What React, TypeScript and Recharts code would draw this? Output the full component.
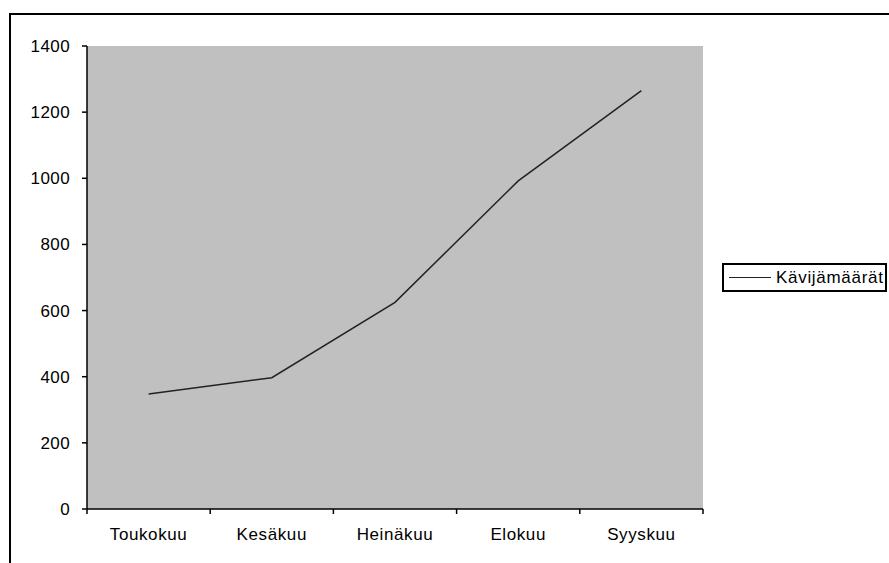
import React from "react";
import { LineChart, Line, XAxis, YAxis, CartesianGrid, Legend } from "recharts";

const months = ["Toukokuu", "Kesäkuu", "Heinäkuu", "Elokuu", "Syyskuu"];
const visitors = [348, 397, 625, 992, 1265];
const yTicks = [0, 200, 400, 600, 800, 1000, 1200, 1400];
const xTicks = [0, 1, 2, 3, 4, 5];

const data = months.map((month, i) => ({ pos: i + 0.5, month, visitors: visitors[i] }));

const W = 889;
const H = 563;
const MARGIN = { top: 46, right: 186, bottom: 24, left: 0 };
const Y_AXIS_W = 87;
const X_AXIS_H = 30;
const PLOT_W = W - MARGIN.left - MARGIN.right - Y_AXIS_W;
const STEP = PLOT_W / months.length;
const FONT = "'Liberation Sans', Arial, sans-serif";

// category labels sit between the boundary ticks
const MonthTick = (props: any) => {
  const { x, y, payload } = props;
  const i = payload.value;
  if (i >= months.length) return null;
  return (
    <text
      x={x + STEP / 2}
      y={y + 24}
      textAnchor="middle"
      fontSize={17}
      letterSpacing={0.6}
      fill="#000"
      fontFamily={FONT}
    >
      {months[i]}
    </text>
  );
};

const LegendBox = () => (
  <div
    style={{
      border: "2px solid #000",
      height: 29,
      width: 165,
      display: "flex",
      alignItems: "center",
      fontFamily: FONT,
      fontSize: 17,
      boxSizing: "border-box",
      background: "#fff",
    }}
  >
    <div style={{ width: 42, height: 0, borderTop: "1.5px solid #222", margin: "0 5px 0 5px" }} />
    <span style={{ letterSpacing: 0.7 }}>Kävijämäärät</span>
  </div>
);

export default function App() {
  return (
    <div style={{ position: "absolute", left: 0, top: 0, width: W, height: H, background: "#fff", overflow: "hidden" }}>
      <div
        style={{
          position: "absolute",
          left: 9,
          top: 13,
          width: W,
          height: H,
          borderLeft: "2px solid #000",
          borderTop: "2px solid #000",
        }}
      />
      <LineChart
        width={W}
        height={H}
        data={data}
        margin={MARGIN}
        style={{ position: "absolute", left: 0, top: 0, fontFamily: FONT }}
      >
        <CartesianGrid horizontal={false} vertical={false} fill="#C0C0C0" />
        <XAxis
          xAxisId="top"
          orientation="top"
          type="number"
          dataKey="pos"
          domain={[0, 5]}
          height={0}
          tick={false}
          tickLine={false}
          axisLine={{ stroke: "#8a8a8a", strokeWidth: 2 }}
        />
        <YAxis
          yAxisId="right"
          orientation="right"
          dataKey="visitors"
          domain={[0, 1400]}
          width={0}
          tick={false}
          tickLine={false}
          axisLine={{ stroke: "#8a8a8a", strokeWidth: 2 }}
        />
        <XAxis
          type="number"
          dataKey="pos"
          domain={[0, 5]}
          ticks={xTicks}
          interval={0}
          height={X_AXIS_H}
          tickSize={5}
          tick={<MonthTick />}
          axisLine={{ stroke: "#000", strokeWidth: 1.5 }}
          tickLine={{ stroke: "#000", strokeWidth: 1.5 }}
        />
        <YAxis
          domain={[0, 1400]}
          ticks={yTicks}
          interval={0}
          width={Y_AXIS_W}
          tickSize={5}
          tickMargin={12}
          tick={{ fontSize: 17, fill: "#000", fontFamily: FONT, letterSpacing: 0.4 }}
          axisLine={{ stroke: "#000", strokeWidth: 1.5 }}
          tickLine={{ stroke: "#000", strokeWidth: 1.5 }}
        />
        <Line
          type="linear"
          dataKey="visitors"
          name="Kävijämäärät"
          stroke="#222"
          strokeWidth={1.5}
          dot={false}
          isAnimationActive={false}
        />
        <Legend
          layout="horizontal"
          align="center"
          verticalAlign="middle"
          width={165}
          content={<LegendBox />}
          wrapperStyle={{ left: 722, top: 263, width: 165, height: 29 }}
        />
      </LineChart>
    </div>
  );
}
